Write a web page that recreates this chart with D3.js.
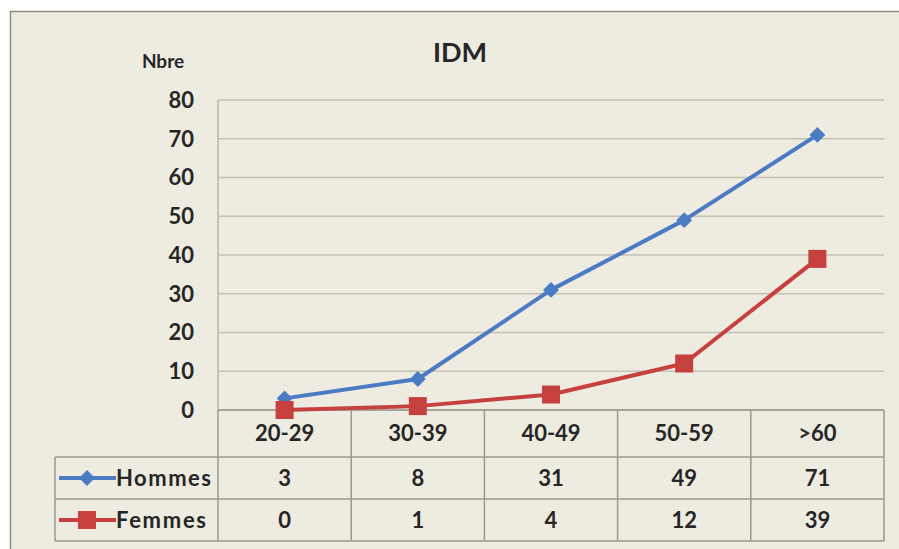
<!DOCTYPE html>
<html>
<head>
<meta charset="utf-8">
<script src="https://cdn.jsdelivr.net/npm/d3@7/dist/d3.min.js"></script>
<style>
  html, body { margin: 0; padding: 0; background: #ffffff; }
  svg { display: block; }
  text { font-family: Lato, "Open Sans", sans-serif; font-weight: bold; fill: #262626; }
</style>
</head>
<body>
<svg id="chart" width="899" height="549"></svg>
<script>
// Age groups and counts of IDM cases per sex
const categories = ["20-29", "30-39", "40-49", "50-59", ">60"];
const hommes = [3, 8, 31, 49, 71];
const femmes = [0, 1, 4, 12, 39];
const yTicks = [0, 10, 20, 30, 40, 50, 60, 70, 80];
const seriesNames = ["Hommes", "Femmes"];
const seriesColors = ["#4a7bc3", "#c6403d"];

const svg = d3.select("#chart");

// chart panel
svg.append("rect")
  .attr("x", 10.5).attr("y", 11.5).attr("width", 900).attr("height", 560)
  .attr("fill", "#eeebe1").attr("stroke", "#8e8c86").attr("stroke-width", 1.5);

const plot = { left: 218, right: 884, top: 100, bottom: 410 };

const x = d3.scaleBand().domain(categories).range([plot.left, plot.right]);
const y = d3.scaleLinear().domain([0, 80]).range([plot.bottom, plot.top]);

// gridlines
svg.append("g").selectAll("line").data(yTicks.filter(d => d > 0)).join("line")
  .attr("x1", plot.left).attr("x2", plot.right)
  .attr("y1", d => y(d)).attr("y2", d => y(d))
  .attr("stroke", "#c3c0b6").attr("stroke-width", 1.5);

// y axis line
svg.append("line")
  .attr("x1", plot.left).attr("x2", plot.left)
  .attr("y1", plot.top).attr("y2", plot.bottom)
  .attr("stroke", "#b9b6ad").attr("stroke-width", 1.5);

// y tick labels
svg.append("g").selectAll("text").data(yTicks).join("text")
  .attr("x", 194).attr("y", d => y(d)).attr("dy", "0.36em")
  .attr("text-anchor", "end").attr("font-size", 22)
  .text(d => d);

// titles
svg.append("text").attr("x", 460).attr("y", 62).attr("text-anchor", "middle")
  .attr("font-size", 27).text("IDM");
svg.append("text").attr("x", 163).attr("y", 68).attr("text-anchor", "middle")
  .attr("font-size", 19).text("Nbre");

// data table
const rowTops = [410, 457, 499, 541];
const tableLeft = 55;
const tbl = svg.append("g").attr("stroke", "#9b988f").attr("stroke-width", 1.5);
// horizontal rules
tbl.append("line").attr("x1", plot.left).attr("x2", plot.right).attr("y1", rowTops[0]).attr("y2", rowTops[0]).attr("stroke", "#8f8c84");
[1, 2, 3].forEach(i => {
  tbl.append("line").attr("x1", tableLeft).attr("x2", plot.right)
    .attr("y1", rowTops[i]).attr("y2", rowTops[i]);
});
// vertical rules
const colEdges = categories.map(c => x(c)).concat([plot.right]);
colEdges.forEach(cx => {
  tbl.append("line").attr("x1", cx).attr("x2", cx)
    .attr("y1", rowTops[0]).attr("y2", rowTops[3]);
});
tbl.append("line").attr("x1", tableLeft).attr("x2", tableLeft)
  .attr("y1", rowTops[1]).attr("y2", rowTops[3]);

const cx = d => x(d) + x.bandwidth() / 2;

// category header
svg.append("g").selectAll("text").data(categories).join("text")
  .attr("x", d => cx(d)).attr("y", (rowTops[0] + rowTops[1]) / 2).attr("dy", "0.36em")
  .attr("text-anchor", "middle").attr("font-size", 22).text(d => d);

// value rows
[hommes, femmes].forEach((vals, i) => {
  const rowMid = (rowTops[i + 1] + rowTops[i + 2]) / 2;
  svg.append("g").selectAll("text").data(vals).join("text")
    .attr("x", (d, j) => cx(categories[j])).attr("y", rowMid).attr("dy", "0.36em")
    .attr("text-anchor", "middle").attr("font-size", 22).text(d => d);
  // legend key
  const g = svg.append("g");
  g.append("line").attr("x1", 59).attr("x2", 116).attr("y1", rowMid).attr("y2", rowMid)
    .attr("stroke", seriesColors[i]).attr("stroke-width", 4);
  drawMarker(g, i, 87, rowMid);
  g.append("text").attr("x", 116).attr("y", rowMid).attr("dy", "0.36em")
    .attr("text-anchor", "start").attr("font-size", 22)
    .attr("textLength", i === 0 ? 95 : 90).attr("lengthAdjust", "spacing")
    .text(seriesNames[i]);
});

function drawMarker(g, i, mx, my) {
  if (i === 0) {
    g.append("path")
      .attr("d", d3.symbol().type(d3.symbolDiamond2).size(160)())
      .attr("transform", `translate(${mx},${my})`)
      .attr("fill", seriesColors[0]);
  } else {
    g.append("rect").attr("x", mx - 9).attr("y", my - 9)
      .attr("width", 18).attr("height", 18).attr("fill", seriesColors[1]);
  }
}

// series lines and markers
const line = d3.line().x((d, j) => cx(categories[j])).y(d => y(d));
[hommes, femmes].forEach((vals, i) => {
  svg.append("path").datum(vals).attr("d", line)
    .attr("fill", "none").attr("stroke", seriesColors[i]).attr("stroke-width", 4)
    .attr("stroke-linejoin", "round");
});
[hommes, femmes].forEach((vals, i) => {
  const g = svg.append("g");
  vals.forEach((v, j) => drawMarker(g, i, cx(categories[j]), y(v)));
});
</script>
</body>
</html>
